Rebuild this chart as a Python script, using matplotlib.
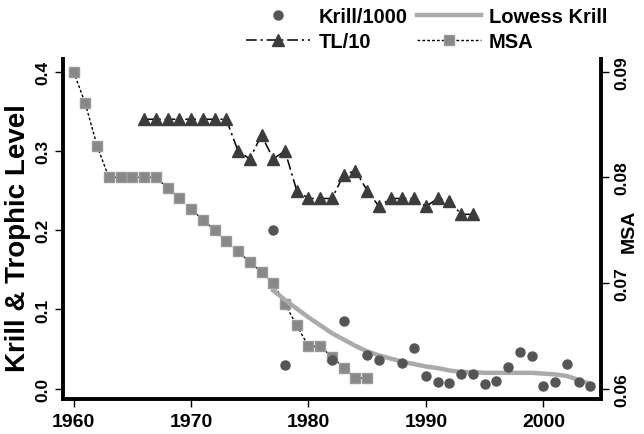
import matplotlib
matplotlib.use("Agg")
import matplotlib.pyplot as plt
from matplotlib.lines import Line2D

plt.rcParams['font.family'] = ['Liberation Sans', 'DejaVu Sans']
plt.rcParams['font.weight'] = 'bold'

# krill (/1000)
krill_years = [1977, 1978, 1982, 1983, 1985, 1986, 1988, 1989, 1990, 1991, 1992,
               1993, 1994, 1995, 1996, 1997, 1998, 1999, 2000, 2001, 2002, 2003, 2004]
krill = [0.200, 0.030, 0.036, 0.086, 0.042, 0.036, 0.033, 0.051, 0.016, 0.008, 0.007,
         0.018, 0.019, 0.006, 0.010, 0.027, 0.046, 0.041, 0.004, 0.009, 0.031, 0.008, 0.003]

# lowess smooth of krill
lowess_years = list(range(1977, 2005))
lowess = [0.124, 0.112, 0.101, 0.090, 0.080, 0.070, 0.062, 0.054, 0.047, 0.042,
          0.038, 0.034, 0.031, 0.028, 0.026, 0.023, 0.021, 0.021, 0.020, 0.020,
          0.020, 0.020, 0.020, 0.019, 0.018, 0.016, 0.011, 0.006]

# trophic level / 10
tl_years = list(range(1966, 1995))
tl = [0.34, 0.34, 0.34, 0.34, 0.34, 0.34, 0.34, 0.34,
      0.30, 0.29, 0.32, 0.29, 0.30, 0.25, 0.24, 0.24, 0.24, 0.27, 0.275,
      0.25, 0.23, 0.24, 0.24, 0.24, 0.23, 0.24, 0.237, 0.22, 0.22]

# MSA (right axis)
msa_years = list(range(1960, 1986))
msa = [0.090, 0.087, 0.083, 0.080, 0.080, 0.080, 0.080, 0.080,
       0.079, 0.078, 0.077, 0.076, 0.075, 0.074, 0.073, 0.072, 0.071, 0.070,
       0.068, 0.066, 0.064, 0.064, 0.063, 0.062, 0.061, 0.061]

fig = plt.figure(figsize=(6.44, 4.35), dpi=100)
ax = fig.add_axes([0.0978, 0.0805, 0.8354, 0.7815])
ax2 = ax.twinx()

ylo, yhi = -0.013, 0.416
ax.set_xlim(1959.1, 2004.9)
ax.set_ylim(ylo, yhi)
# right axis lined up so 0.06 sits on 0.0 and 0.09 on 0.4
ax2.set_ylim(0.06 + 0.075 * ylo, 0.06 + 0.075 * yhi)

tl_style = dict(linestyle=(0, (7, 2.5, 1.5, 2.5)), color='black', lw=1.1,
                marker='^', ms=8, mfc='#3c3c3c', mec='#3c3c3c')
msa_style = dict(linestyle=(0, (2, 1.5)), color='black', lw=1,
                 marker='s', ms=6.8, mfc='#888888', mec='#999999')
krill_style = dict(linestyle='none', marker='o', ms=6.5, mfc='#555555', mec='#555555')
lowess_style = dict(color='#aaaaaa', lw=3.2)

ax2.plot(msa_years, msa, zorder=2, **msa_style)
ax.plot(tl_years, tl, zorder=3, **tl_style)
ax.plot(lowess_years, lowess, zorder=4, **lowess_style)
ax.plot(krill_years, krill, zorder=5, **krill_style)
ax.set_zorder(ax2.get_zorder() + 1)
ax.patch.set_visible(False)

for a in (ax, ax2):
    a.spines['top'].set_visible(False)
    for s in ('left', 'bottom', 'right'):
        a.spines[s].set_linewidth(2.8)
ax.spines['right'].set_visible(False)
ax2.spines['left'].set_visible(False)
ax2.spines['bottom'].set_visible(False)

ax.set_xticks([1960, 1970, 1980, 1990, 2000])
ax.set_yticks([0.0, 0.1, 0.2, 0.3, 0.4])
ax.set_yticklabels(['0.0', '0.1', '0.2', '0.3', '0.4'])
ax2.set_yticks([0.06, 0.07, 0.08, 0.09])
ax2.set_yticklabels(['0.06', '0.07', '0.08', '0.09'])
ax.tick_params(axis='x', length=6, width=1, pad=4, labelsize=14)
ax.tick_params(axis='y', length=6, width=1, pad=3, labelsize=12.5, labelrotation=90)
ax2.tick_params(axis='y', length=6, width=1, pad=4, labelsize=12.5, labelrotation=90)
for t in ax.get_yticklabels() + ax2.get_yticklabels():
    t.set_va('center')

ax.set_ylabel('Krill & Trophic Level', fontsize=20, fontweight='bold')
ax.yaxis.set_label_coords(-0.06, 0.476)
ax2.set_ylabel('MSA', fontsize=14, fontweight='bold', rotation=90)
ax2.yaxis.set_label_coords(1.037, 0.497)

handles = [
    Line2D([], [], **krill_style),
    Line2D([], [], **tl_style),
    Line2D([], [], **lowess_style),
    Line2D([], [], **msa_style),
]
labels = ['Krill/1000', 'TL/10', 'Lowess Krill', 'MSA']
fig.legend(handles, labels, loc='upper left', bbox_to_anchor=(246 / 644, 1 - 8 / 435),
           ncol=2, frameon=False, handlelength=3.2, handletextpad=0.4,
           columnspacing=0.45, labelspacing=0.3, borderpad=0, borderaxespad=0,
           prop={'weight': 'bold', 'size': 14.5})

fig.savefig('out.png', dpi=100)
